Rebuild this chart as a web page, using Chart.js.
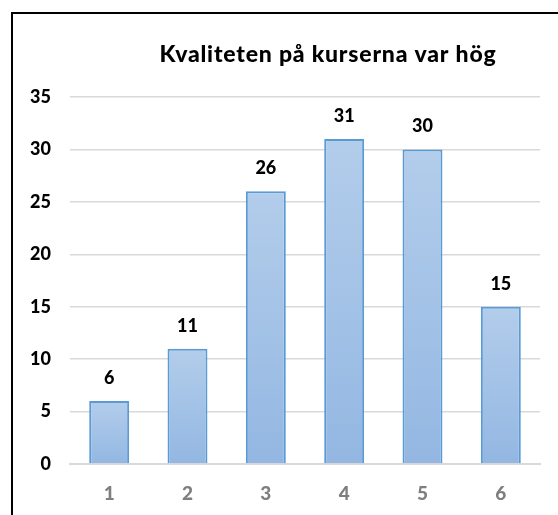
<!DOCTYPE html>
<html>
<head>
<meta charset="utf-8">
<script src="https://cdn.jsdelivr.net/npm/chart.js@4"></script>
<style>
  html, body { margin: 0; padding: 0; background: #fff; }
  #wrap { position: relative; width: 558px; height: 515px; overflow: hidden; }
  #frame {
    position: absolute; left: 11px; top: 12px; width: 600px; height: 600px;
    border-left: 2px solid #000; border-top: 2px solid #000;
  }
  canvas { position: absolute; left: 0; top: 0; }
</style>
</head>
<body>
<div id="wrap">
  <div id="frame"></div>
  <canvas id="chart" width="558" height="515"></canvas>
</div>
<script>
// chart data
const categories = ['1', '2', '3', '4', '5', '6'];
const counts = [6, 11, 26, 31, 30, 15];
const chartTitle = 'Kvaliteten på kurserna var hög';

const FONT = 'Lato, "Open Sans", sans-serif';

// gradient per bar, light on top
function barGradient(context) {
    const chart = context.chart;
    const yScale = chart.scales.y;
    if (!yScale || context.raw == null) return '#a7c4e8';
    const top = yScale.getPixelForValue(context.raw);
    const base = yScale.getPixelForValue(0);
    if (!isFinite(top) || !isFinite(base) || top === base) return '#a7c4e8';
    const g = chart.ctx.createLinearGradient(0, top, 0, base);
    g.addColorStop(0, '#b3cdeb');
    g.addColorStop(1, '#93b7e2');
    return g;
}

// value labels above the bars
const valueLabels = {
    id: 'valueLabels',
    afterDatasetsDraw(chart) {
        const ctx = chart.ctx;
        const meta = chart.getDatasetMeta(0);
        ctx.save();
        ctx.font = '900 18px ' + FONT;
        ctx.fillStyle = '#000';
        ctx.textAlign = 'center';
        ctx.textBaseline = 'alphabetic';
        meta.data.forEach((bar, i) => {
            ctx.fillText(String(counts[i]), bar.x, bar.y - 17);
        });
        ctx.restore();
    }
};

// title placed like the original (slightly right of centre)
const titleText = {
    id: 'titleText',
    afterDraw(chart) {
        const ctx = chart.ctx;
        ctx.save();
        ctx.font = '900 23px ' + FONT;
        ctx.letterSpacing = '0.8px';
        ctx.fillStyle = '#000';
        ctx.textAlign = 'center';
        ctx.textBaseline = 'alphabetic';
        ctx.fillText(chartTitle, 328, 62);
        ctx.restore();
    }
};

new Chart(document.getElementById('chart'), {
    type: 'bar',
    data: {
        labels: categories,
        datasets: [{
            data: counts,
            backgroundColor: barGradient,
            borderColor: '#5b9bd5',
            borderWidth: 2,
            borderSkipped: 'bottom',
            categoryPercentage: 1,
            barPercentage: 0.51
        }]
    },
    options: {
        responsive: false,
        animation: false,
        layout: { padding: { left: 12, right: 18, top: 97, bottom: 0 } },
        plugins: {
            legend: { display: false },
            title: { display: false },
            tooltip: { enabled: false }
        },
        scales: {
            x: {
                grid: { display: false },
                border: { color: '#d9d9d9', width: 2 },
                ticks: {
                    color: '#7f7f7f',
                    font: { family: FONT, size: 19, weight: '900' },
                    padding: 10
                },
                afterFit(s) { s.height = 51; }
            },
            y: {
                min: 0,
                max: 35,
                ticks: {
                    stepSize: 5,
                    color: '#000',
                    font: { family: FONT, size: 18, weight: '900' },
                    padding: 19
                },
                grid: { color: '#d9d9d9', lineWidth: 1.5, drawTicks: false },
                border: { display: false },
                afterFit(s) { s.width = 58; }
            }
        }
    },
    plugins: [valueLabels, titleText]
});
</script>
</body>
</html>
